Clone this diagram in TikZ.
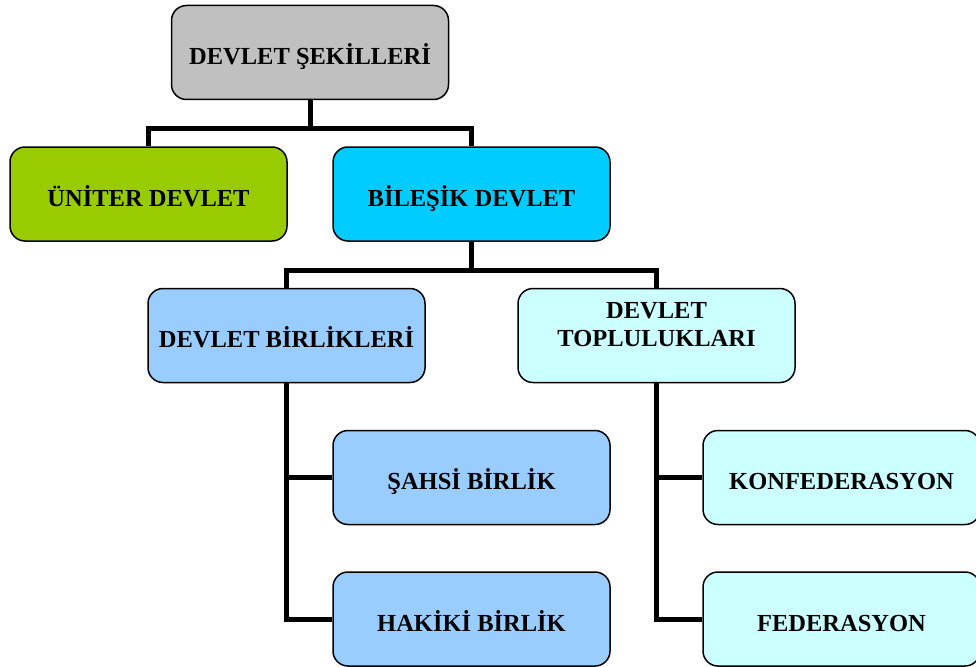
\documentclass[tikz,border=0pt]{standalone}
\usepackage{fontspec}
\setmainfont{Liberation Serif}
\definecolor{cgray}{HTML}{C0C0C0}
\definecolor{cgreen}{HTML}{99CC00}
\definecolor{ccyan}{HTML}{00CCFF}
\definecolor{cblue}{HTML}{99CCFF}
\definecolor{clcyan}{HTML}{CCFFFF}
\begin{document}
\begin{tikzpicture}[x=1pt,y=-1pt,
  box/.style={draw=black, line width=1.5pt, rounded corners=15pt,
    minimum width=277pt, minimum height=94pt, inner sep=0pt,
    font=\fontsize{24.5}{28.5}\selectfont\bfseries, align=center,
    text height=24pt, text depth=0pt},
  conn/.style={draw=black, line width=5pt, line join=miter}]
\useasboundingbox (0,0) rectangle (976,666);
% connectors first (coordinates)
\coordinate (j1) at (310,128);
\coordinate (j2) at (471.5,270);
\begin{scope}[on background layer/.style={}]
\end{scope}
\node[box, fill=cgray]   (top)  at (310,52.5)    {DEVLET ŞEKİLLERİ};
\node[box, fill=cgreen]  (uni)  at (148.5,194)   {ÜNİTER DEVLET};
\node[box, fill=ccyan]   (bil)  at (471.5,194)   {BİLEŞİK DEVLET};
\node[box, fill=cblue]   (bir)  at (286.5,335.5) {DEVLET BİRLİKLERİ};
\node[box, fill=clcyan, text height=, text depth=] (tpl) at (656.5,335.5) {DEVLET\\TOPLULUKLARI\\[-6pt]\mbox{}};
\node[box, fill=cblue]   (sah)  at (471.5,477.5) {ŞAHSİ BİRLİK};
\node[box, fill=cblue]   (hak)  at (471.5,619)   {HAKİKİ BİRLİK};
\node[box, fill=clcyan]  (kon)  at (841.5,477.5) {KONFEDERASYON};
\node[box, fill=clcyan]  (fed)  at (841.5,619)   {FEDERASYON};
\draw[conn] (top.south) -- (j1);
\draw[conn] (uni.north) |- (j1) -| (bil.north);
\draw[conn] (bil.south) -- (j2);
\draw[conn] (bir.north) |- (j2) -| (tpl.north);
\draw[conn] (bir.south) |- (sah.west);
\draw[conn] (bir.south) |- (hak.west);
\draw[conn] (tpl.south) |- (kon.west);
\draw[conn] (tpl.south) |- (fed.west);
\end{tikzpicture}
\end{document}
